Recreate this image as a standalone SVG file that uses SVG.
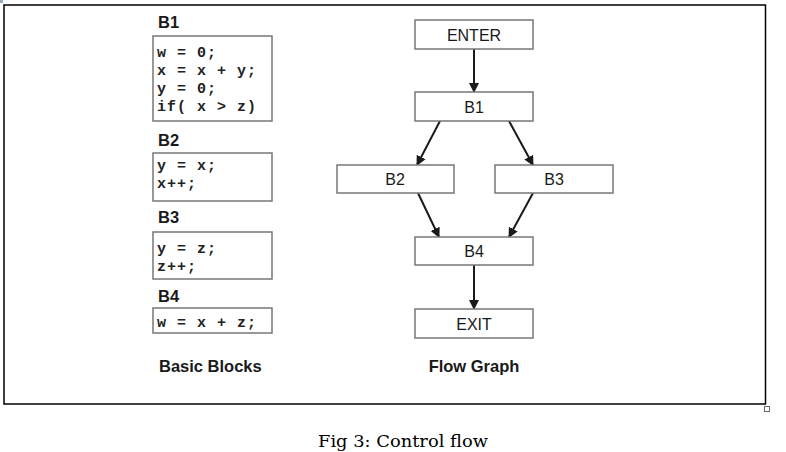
<svg xmlns="http://www.w3.org/2000/svg" width="786" height="452" viewBox="0 0 786 452">
<style>
.lbl{font-family:"Liberation Sans",Arial,sans-serif;font-weight:bold;font-size:16.5px;fill:#1a1a1a}
.code{font-family:"Liberation Mono","Courier New",monospace;font-weight:bold;font-size:15px;letter-spacing:1px;fill:#222;white-space:pre}
.cbox{fill:#fff;stroke:#777;stroke-width:1.5}
.fbox{fill:#fff;stroke:#777;stroke-width:1.5}
.ftxt{font-family:"Liberation Sans",Arial,sans-serif;font-size:16px;fill:#1a1a1a;text-anchor:middle}
.edge{stroke:#1a1a1a;stroke-width:2;fill:none;marker-end:url(#ah)}
.cap{font-family:"DejaVu Serif","Liberation Serif",serif;font-size:16.5px;fill:#000}
</style>
<defs>
<marker id="ah" markerWidth="10" markerHeight="10" refX="9" refY="5" orient="auto" markerUnits="userSpaceOnUse">
<path d="M0,0 L10,5 L0,10 Z" fill="#1a1a1a"/>
</marker>
</defs>
<rect width="786" height="452" fill="#fff"/>
<rect x="0" y="0" width="3" height="3" fill="#9ab" />
<rect x="4" y="5" width="761.5" height="399" fill="none" stroke="#000" stroke-width="1.5"/>
<rect x="764.5" y="406.5" width="5" height="5" fill="#fff" stroke="#666" stroke-width="1"/>

<g id="block-B1">
<text class="lbl" x="158" y="28">B1</text>
<rect class="cbox" x="153" y="36" width="119" height="85"/>
<text class="code" x="157" y="57">w = 0;</text>
<text class="code" x="157" y="75">x = x + y;</text>
<text class="code" x="157" y="93">y = 0;</text>
<text class="code" x="157" y="111">if( x &gt; z)</text>
</g>
<g id="block-B2">
<text class="lbl" x="158" y="146">B2</text>
<rect class="cbox" x="153" y="153" width="119" height="48"/>
<text class="code" x="157" y="170">y = x;</text>
<text class="code" x="157" y="188">x++;</text>
</g>
<g id="block-B3">
<text class="lbl" x="158" y="223">B3</text>
<rect class="cbox" x="153" y="232" width="119" height="47"/>
<text class="code" x="157" y="253">y = z;</text>
<text class="code" x="157" y="271">z++;</text>
</g>
<g id="block-B4">
<text class="lbl" x="158" y="302">B4</text>
<rect class="cbox" x="153" y="308" width="119" height="25"/>
<text class="code" x="157" y="327">w = x + z;</text>
</g>
<text class="lbl" x="159" y="372" font-size="17px">Basic Blocks</text>

<g id="connectors">
<line class="edge" x1="474" y1="49" x2="474" y2="92"/>
<line class="edge" x1="440" y1="121" x2="417" y2="165"/>
<line class="edge" x1="509" y1="121" x2="533" y2="165"/>
<line class="edge" x1="418" y1="193" x2="439" y2="237"/>
<line class="edge" x1="533" y1="193" x2="509" y2="237"/>
<line class="edge" x1="474" y1="265" x2="474" y2="309"/>
</g>

<g id="node-ENTER">
<rect class="fbox" x="415" y="20" width="118" height="29"/>
<text class="ftxt" x="474" y="41">ENTER</text>
</g>
<g id="node-B1">
<rect class="fbox" x="415" y="92" width="118" height="29"/>
<text class="ftxt" x="474" y="113">B1</text>
</g>
<g id="node-B2">
<rect class="fbox" x="337" y="165" width="117" height="28"/>
<text class="ftxt" x="395" y="185">B2</text>
</g>
<g id="node-B3">
<rect class="fbox" x="495" y="165" width="118" height="28"/>
<text class="ftxt" x="554" y="185">B3</text>
</g>
<g id="node-B4">
<rect class="fbox" x="415" y="237" width="118" height="28"/>
<text class="ftxt" x="474" y="257">B4</text>
</g>
<g id="node-EXIT">
<rect class="fbox" x="415" y="309" width="118" height="29"/>
<text class="ftxt" x="474" y="330">EXIT</text>
</g>
<text class="lbl" x="474" y="372" font-size="17px" text-anchor="middle">Flow Graph</text>

<text class="cap" x="318" y="447" textLength="170" lengthAdjust="spacingAndGlyphs">Fig 3: Control flow</text>
</svg>
